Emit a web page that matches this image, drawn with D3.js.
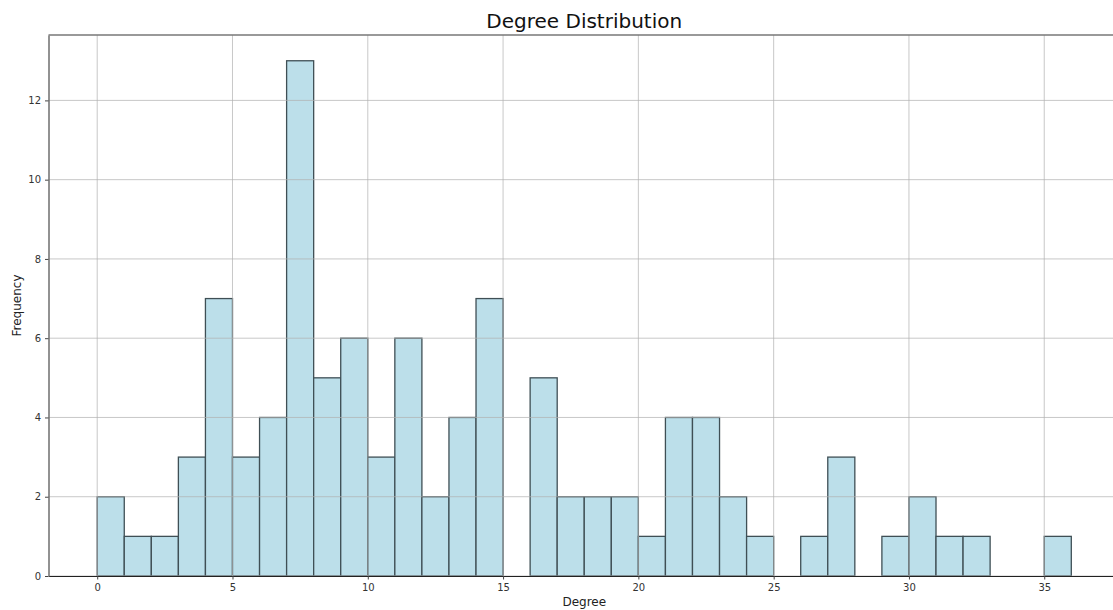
<!DOCTYPE html>
<html><head><meta charset="utf-8">
<script src="https://cdn.jsdelivr.net/npm/d3@7"></script>
<style>body{margin:0;background:#fff}svg{display:block}text{font-family:"DejaVu Sans",sans-serif}</style>
</head><body><svg id="c" width="1113" height="610"></svg>
<script>
const binStarts = [0,1,2,3,4,5,6,7,8,9,10,11,12,13,14,15,16,17,18,19,20,21,22,23,24,25,26,27,28,29,30,31,32,33,34,35];
const counts    = [2,1,1,3,7,3,4,13,5,6,3,6,2,4,7,0,5,2,2,2,1,4,4,2,1,0,1,3,0,1,2,1,1,0,0,1];
const binWidth = 1;
const xTicks = [0,5,10,15,20,25,30,35];
const yTicks = [0,2,4,6,8,10,12];
const title = "Degree Distribution", xLabel = "Degree", yLabel = "Frequency";

const svg = d3.select("#c");
const L = 48.5, R = 1120, T = 35, B = 576;
const x = d3.scaleLinear().domain([-1.8, 37.8]).range([L, R]);
const y = d3.scaleLinear().domain([0, 13.65]).range([B, T]);

// bars
svg.append("g").selectAll("rect").data(binStarts.map((s,i)=>({s,c:counts[i]})).filter(d=>d.c>0))
  .join("rect")
  .attr("x", d=>x(d.s)).attr("width", d=>x(d.s+binWidth)-x(d.s))
  .attr("y", d=>y(d.c)).attr("height", d=>y(0)-y(d.c))
  .attr("fill", "#bcdfea").attr("stroke", "#3f4f55").attr("stroke-width", 1.3);

// grid on top
const grid = svg.append("g").attr("stroke", "#b0b0b0").attr("stroke-opacity", 0.7).attr("stroke-width", 1);
grid.selectAll(".gx").data(xTicks).join("line").attr("x1", d=>x(d)).attr("x2", d=>x(d)).attr("y1", T).attr("y2", B);
grid.selectAll(".gy").data(yTicks).join("line").attr("y1", d=>y(d)).attr("y2", d=>y(d)).attr("x1", L).attr("x2", R);

// axes
const xa = svg.append("g").attr("transform", `translate(0,${B})`)
  .call(d3.axisBottom(x).tickValues(xTicks).tickSize(3.5).tickSizeOuter(0).tickPadding(4).tickFormat(d3.format("d")));
const ya = svg.append("g").attr("transform", `translate(${L},0)`)
  .call(d3.axisLeft(y).tickValues(yTicks).tickSize(3.5).tickSizeOuter(0).tickPadding(4).tickFormat(d3.format("d")));
[xa, ya].forEach(a=>{
  a.selectAll("text").attr("font-size", 10).attr("fill", "#333").attr("font-family", "DejaVu Sans");
  a.selectAll(".tick line").attr("stroke", "#444");
});
xa.select(".domain").attr("stroke", "#222").attr("stroke-width", 1.2);
ya.select(".domain").attr("stroke", "#777").attr("stroke-width", 1.6);
// top spine
svg.append("line").attr("x1", L).attr("x2", R).attr("y1", T).attr("y2", T).attr("stroke", "#777").attr("stroke-width", 1.6);

svg.append("text").attr("x", (L+R)/2).attr("y", 28).attr("text-anchor", "middle").attr("font-size", 20).attr("fill", "#111").text(title);
svg.append("text").attr("x", x(18)).attr("y", 606).attr("text-anchor", "middle").attr("font-size", 12).attr("fill", "#222").text(xLabel);
svg.append("text").attr("transform", `translate(21,${(T+B)/2}) rotate(-90)`).attr("text-anchor", "middle").attr("font-size", 12).attr("fill", "#222").text(yLabel);
</script></body></html>
